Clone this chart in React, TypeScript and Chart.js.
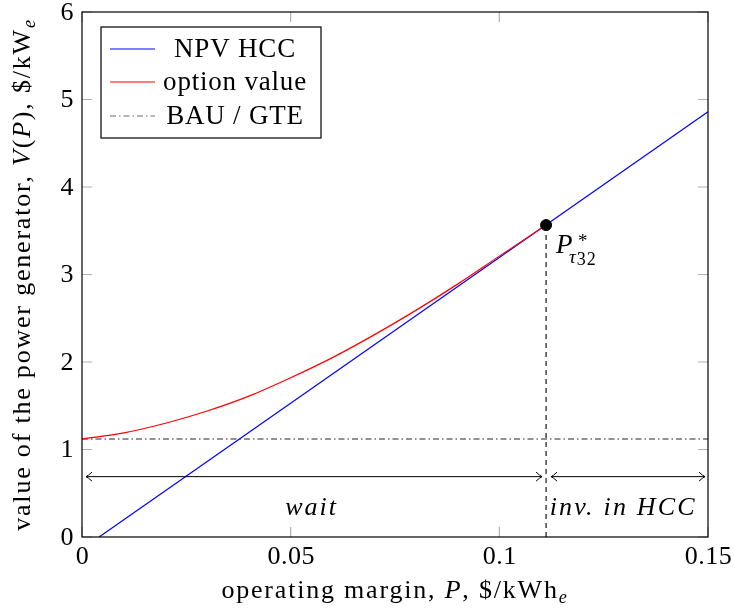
import React, { useEffect, useRef } from "react";
import { Chart, registerables } from "chart.js";

Chart.register(...registerables);

// ---- data ----
const npvP = [0.0041, 0.15];
const npvV = [0, 4.86];
const optP = [0, 0.01, 0.02, 0.03, 0.04, 0.05, 0.06, 0.07, 0.08, 0.09, 0.1, 0.1112];
const optV = [1.12, 1.19, 1.3, 1.44, 1.61, 1.82, 2.05, 2.31, 2.59, 2.89, 3.21, 3.565];
const bauP = [0, 0.15];
const bauV = [1.12, 1.12];
const pStar = 0.1112;
const vStar = 3.565;
const arrowV = 0.69;
const textV = 0.34;
const waitP = 0.055;
const invP = 0.1297;
const xTickVals = [0, 0.05, 0.1, 0.15];
const xTickLabels = ["0", "0.05", "0.1", "0.15"];
const yTickVals = [0, 1, 2, 3, 4, 5, 6];
const yTickLabels = ["0", "1", "2", "3", "4", "5", "6"];
const legendLabels = ["NPV HCC", "option value", "BAU / GTE"];

const FONT = "'Liberation Serif', 'DejaVu Serif', serif";
const W = 734;
const H = 615;
const CA = { left: 82, right: 708, top: 12, bottom: 537 };

type Part = { t: string; it?: boolean; sub?: boolean; sup?: boolean };

function setLS(ctx: any, px: number) {
  ctx.letterSpacing = `${px}px`;
}

function fontOf(p: Part, size: number) {
  const s = p.sub || p.sup ? size * 0.7 : size;
  return `${p.it ? "italic " : ""}${s}px ${FONT}`;
}

function drawRich(
  ctx: CanvasRenderingContext2D,
  parts: Part[],
  x: number,
  y: number,
  size: number,
  ls: number
) {
  ctx.textBaseline = "alphabetic";
  ctx.textAlign = "left";
  setLS(ctx, ls);
  let total = 0;
  for (const p of parts) {
    ctx.font = fontOf(p, size);
    total += ctx.measureText(p.t).width;
  }
  let cx = x - total / 2;
  for (const p of parts) {
    ctx.font = fontOf(p, size);
    const dy = p.sub ? size * 0.2 : p.sup ? -size * 0.4 : 0;
    ctx.fillText(p.t, cx, y + dy);
    cx += ctx.measureText(p.t).width;
  }
  setLS(ctx, 0);
}

function arrowHead(ctx: CanvasRenderingContext2D, x: number, y: number, dir: number) {
  ctx.beginPath();
  ctx.moveTo(x - dir * 6, y - 4.5);
  ctx.quadraticCurveTo(x - dir * 2, y - 0.8, x, y);
  ctx.quadraticCurveTo(x - dir * 2, y + 0.8, x - dir * 6, y + 4.5);
  ctx.stroke();
}

const overlay = {
  id: "overlay",
  afterDatasetsDraw(chart: any) {
    const ctx: CanvasRenderingContext2D = chart.ctx;
    const xs = chart.scales.x;
    const ys = chart.scales.y;
    const { left, right, top, bottom } = chart.chartArea;
    ctx.save();

    // ticks (inside, gray)
    ctx.strokeStyle = "#b0b0b0";
    ctx.lineWidth = 1.2;
    for (const v of xTickVals) {
      const px = xs.getPixelForValue(v);
      ctx.beginPath();
      ctx.moveTo(px, bottom);
      ctx.lineTo(px, bottom - 10);
      ctx.moveTo(px, top);
      ctx.lineTo(px, top + 10);
      ctx.stroke();
    }
    for (const v of yTickVals) {
      const py = ys.getPixelForValue(v);
      ctx.beginPath();
      ctx.moveTo(left, py);
      ctx.lineTo(left + 10, py);
      ctx.moveTo(right, py);
      ctx.lineTo(right - 10, py);
      ctx.stroke();
    }

    // tick labels
    ctx.fillStyle = "#000";
    ctx.font = `26px ${FONT}`;
    setLS(ctx, 0.5);
    ctx.textBaseline = "alphabetic";
    ctx.textAlign = "center";
    xTickVals.forEach((v, i) => {
      ctx.fillText(xTickLabels[i], xs.getPixelForValue(v) + 0.5, bottom + 27);
    });
    ctx.textAlign = "right";
    ctx.textBaseline = "middle";
    yTickVals.forEach((v, i) => {
      ctx.fillText(yTickLabels[i], left - 8, ys.getPixelForValue(v) + 1);
    });
    setLS(ctx, 0);

    // frame
    ctx.strokeStyle = "#000";
    ctx.lineWidth = 1.2;
    ctx.strokeRect(left, top, right - left, bottom - top);

    // arrows
    const ay = ys.getPixelForValue(arrowV);
    const ps = xs.getPixelForValue(pStar);
    const x0 = xs.getPixelForValue(0) + 4;
    const x1 = ps - 4;
    const x2 = ps + 5;
    const x3 = xs.getPixelForValue(0.15) - 3;
    ctx.lineWidth = 1;
    ctx.strokeStyle = "#000";
    ctx.beginPath();
    ctx.moveTo(x0, ay);
    ctx.lineTo(x1, ay);
    ctx.moveTo(x2, ay);
    ctx.lineTo(x3, ay);
    ctx.stroke();
    arrowHead(ctx, x0, ay, -1);
    arrowHead(ctx, x1, ay, 1);
    arrowHead(ctx, x2, ay, -1);
    arrowHead(ctx, x3, ay, 1);

    // region texts
    ctx.fillStyle = "#000";
    const ty = ys.getPixelForValue(textV) + 8;
    drawRich(ctx, [{ t: "wait", it: true }], xs.getPixelForValue(waitP), ty, 26, 2);
    drawRich(ctx, [{ t: "inv. in HCC", it: true }], xs.getPixelForValue(invP), ty, 26, 2.2);

    // P* label
    const sy = ys.getPixelForValue(vStar);
    ctx.textAlign = "left";
    ctx.textBaseline = "alphabetic";
    ctx.font = `italic 27px ${FONT}`;
    ctx.fillText("P", ps + 10, sy + 28);
    ctx.font = `19px ${FONT}`;
    ctx.fillText("*", ps + 32, sy + 22);
    ctx.font = `italic 19px ${FONT}`;
    ctx.fillText("τ", ps + 23, sy + 38);
    const tw = ctx.measureText("τ").width;
    ctx.font = `18px ${FONT}`;
    setLS(ctx, 1);
    ctx.fillText("32", ps + 24 + tw, sy + 40);
    setLS(ctx, 0);

    // legend
    const lx = left + 19, ly = top + 15, lw = 220, lh = 111;
    ctx.fillStyle = "#fff";
    ctx.fillRect(lx, ly, lw, lh);
    ctx.strokeStyle = "#000";
    ctx.lineWidth = 1.2;
    ctx.strokeRect(lx, ly, lw, lh);
    const rows = [ly + 22, ly + 55, ly + 89];
    const styles = [
      { c: "#0000ff", d: [] as number[] },
      { c: "#ff0000", d: [] as number[] },
      { c: "#6e6e6e", d: [6, 3, 1.5, 3] },
    ];
    for (let i = 0; i < 3; i++) {
      ctx.strokeStyle = styles[i].c;
      ctx.setLineDash(styles[i].d);
      ctx.lineWidth = 1.2;
      ctx.beginPath();
      ctx.moveTo(lx + 9, rows[i]);
      ctx.lineTo(lx + 54, rows[i]);
      ctx.stroke();
      ctx.setLineDash([]);
      ctx.fillStyle = "#000";
      ctx.font = `27px ${FONT}`;
      setLS(ctx, 0.8);
      ctx.textAlign = "center";
      ctx.textBaseline = "middle";
      ctx.fillText(legendLabels[i], lx + 134, rows[i] + 1);
      setLS(ctx, 0);
    }

    // axis titles
    ctx.fillStyle = "#000";
    drawRich(
      ctx,
      [
        { t: "operating margin, " },
        { t: "P", it: true },
        { t: ", $/kWh" },
        { t: "e", it: true, sub: true },
      ],
      (left + right) / 2,
      598,
      26,
      1.8
    );
    ctx.save();
    ctx.translate(30, (top + bottom) / 2);
    ctx.rotate(-Math.PI / 2);
    drawRich(
      ctx,
      [
        { t: "value of the power generator, " },
        { t: "V", it: true },
        { t: "(" },
        { t: "P", it: true },
        { t: "), $/kW" },
        { t: "e", it: true, sub: true },
      ],
      0,
      0,
      26,
      1.8
    );
    ctx.restore();

    ctx.restore();
  },
};

export default function App() {
  const ref = useRef<HTMLCanvasElement | null>(null);
  useEffect(() => {
    if (!ref.current) return;
    const chart = new Chart(ref.current, {
      type: "scatter",
      data: {
        datasets: [
          {
            label: "P*",
            data: [{ x: pStar, y: vStar }],
            pointRadius: 5.5,
            pointBackgroundColor: "#000",
            pointBorderColor: "#000",
            showLine: false,
          },
          {
            label: legendLabels[1],
            data: optP.map((p, i) => ({ x: p, y: optV[i] })),
            showLine: true,
            borderColor: "#ff0000",
            borderWidth: 1.2,
            pointRadius: 0,
            cubicInterpolationMode: "monotone",
          },
          {
            label: legendLabels[0],
            data: npvP.map((p, i) => ({ x: p, y: npvV[i] })),
            showLine: true,
            borderColor: "#0000ff",
            borderWidth: 1.2,
            pointRadius: 0,
          },
          {
            label: legendLabels[2],
            data: bauP.map((p, i) => ({ x: p, y: bauV[i] })),
            showLine: true,
            borderColor: "#6e6e6e",
            borderWidth: 1.3,
            borderDash: [6, 3, 1.5, 3],
            pointRadius: 0,
          },
          {
            label: "threshold",
            data: [
              { x: pStar, y: 0 },
              { x: pStar, y: vStar },
            ],
            showLine: true,
            borderColor: "#000",
            borderWidth: 1.1,
            borderDash: [5, 4],
            pointRadius: 0,
          },
        ],
      },
      options: {
        animation: false,
        responsive: false,
        devicePixelRatio: 1,
        layout: { padding: { top: CA.top, right: W - CA.right, left: 0, bottom: 0 } },
        plugins: { legend: { display: false }, tooltip: { enabled: false } },
        scales: {
          x: {
            type: "linear",
            min: 0,
            max: 0.15,
            ticks: { display: false },
            grid: { display: false, drawTicks: false },
            border: { display: false },
            afterFit: (s: any) => {
              s.height = H - CA.bottom;
            },
          },
          y: {
            type: "linear",
            min: 0,
            max: 6,
            ticks: { display: false },
            grid: { display: false, drawTicks: false },
            border: { display: false },
            afterFit: (s: any) => {
              s.width = CA.left;
            },
          },
        },
      },
      plugins: [overlay],
    } as any);
    return () => chart.destroy();
  }, []);
  return (
    <div style={{ position: "absolute", left: 0, top: 0, width: W, height: H, background: "#fff" }}>
      <canvas ref={ref} width={W} height={H} style={{ display: "block" }} />
    </div>
  );
}
